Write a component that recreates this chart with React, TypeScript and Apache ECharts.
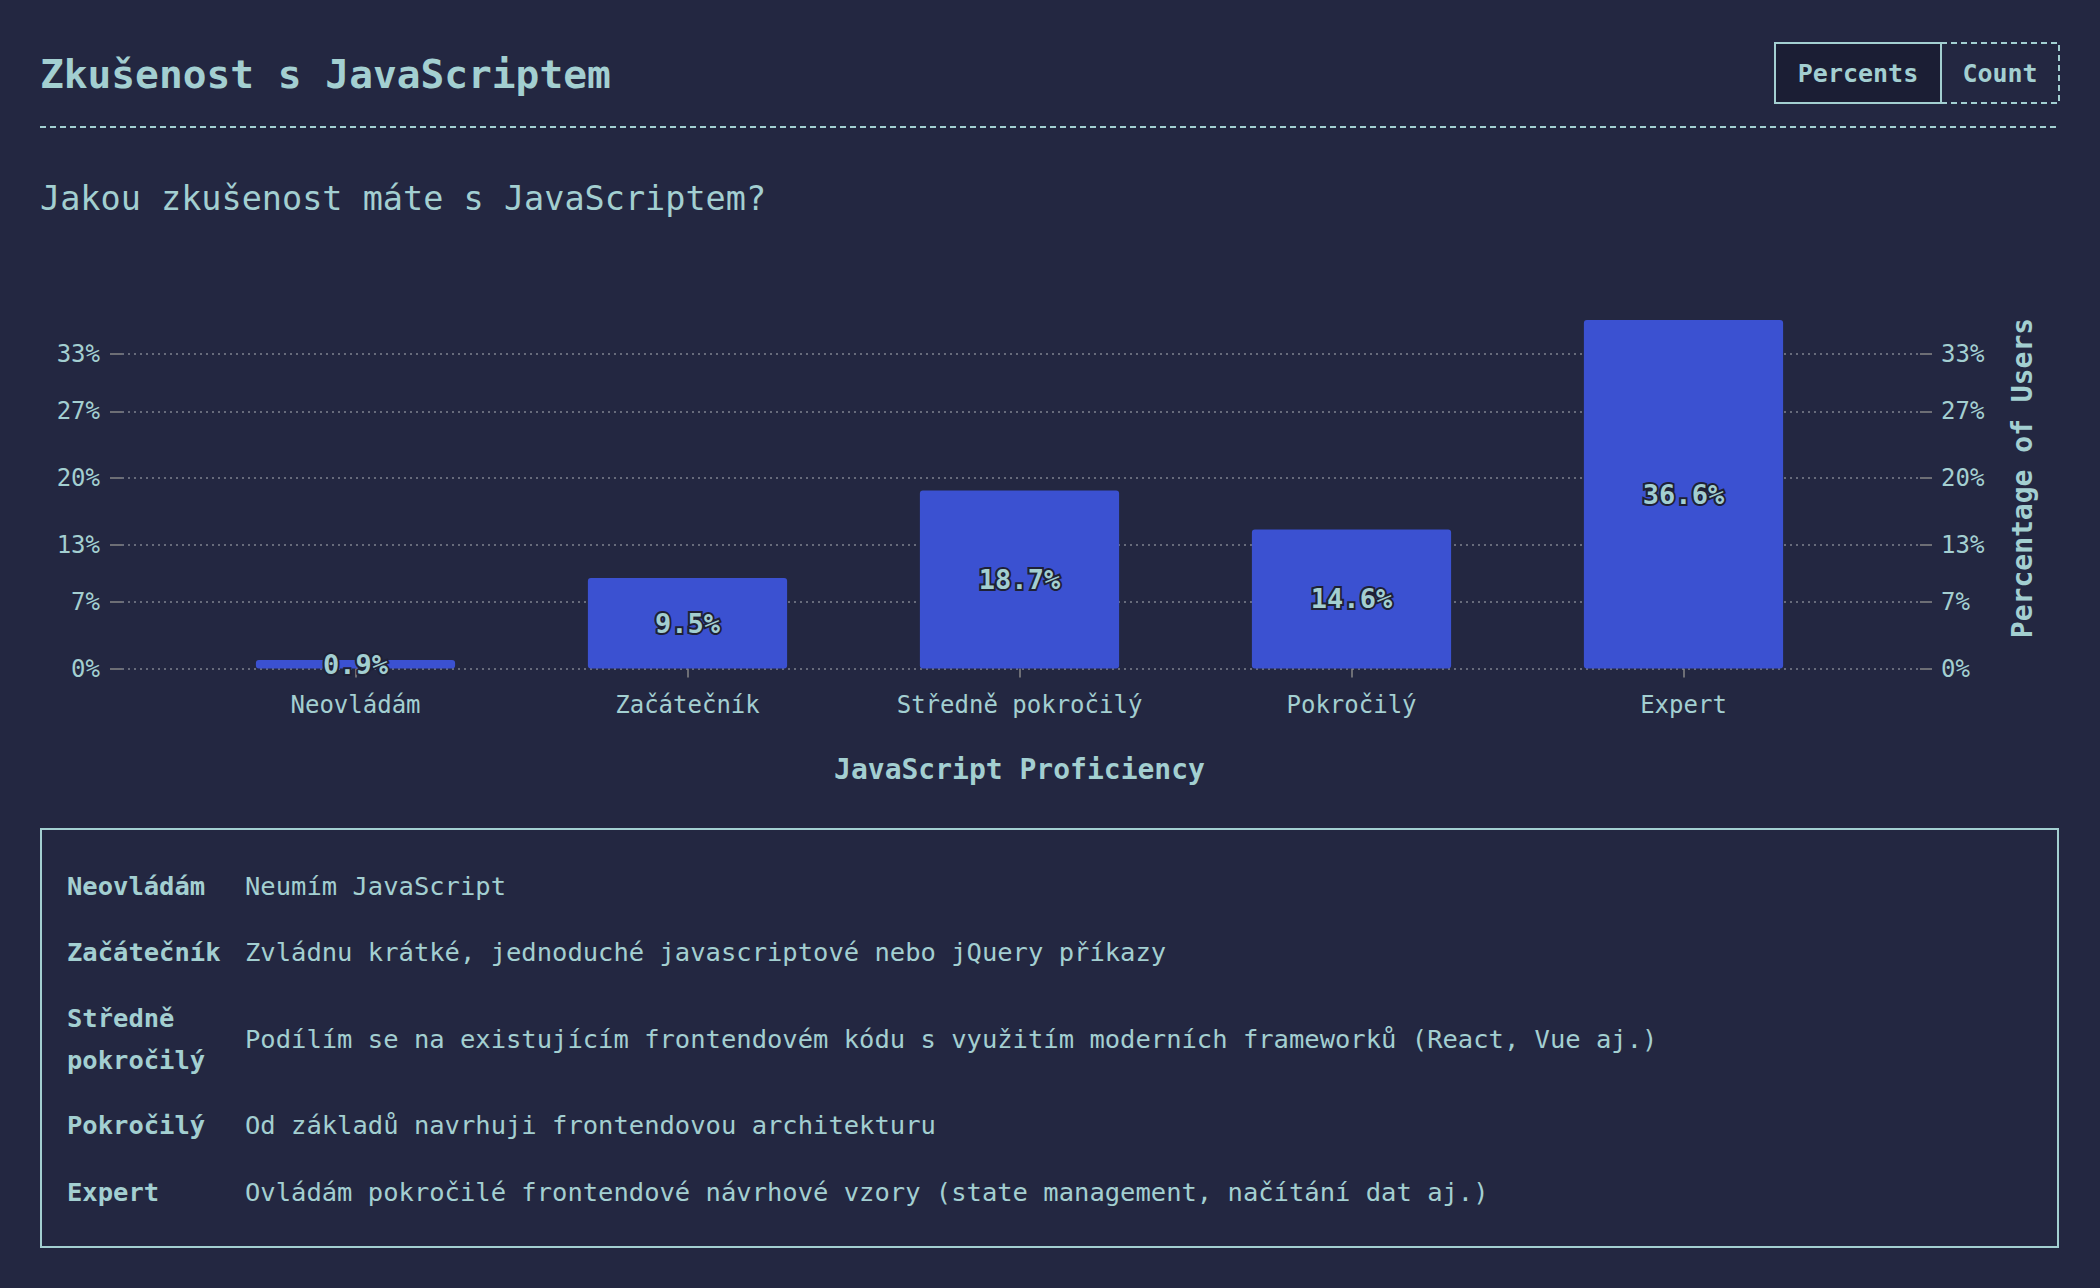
import React, { useEffect, useRef } from "react";
import * as echarts from "echarts";

// ---------- data ----------
const categories = ["Neovládám", "Začátečník", "Středně pokročilý", "Pokročilý", "Expert"];
const percentValues = [0.9, 9.5, 18.7, 14.6, 36.6];
const yTickValues = [0, 7, 13, 20, 27, 33];
const tableLabels = ["Neovládám", "Začátečník", "Středně\npokročilý", "Pokročilý", "Expert"];
const tableDescriptions = [
  "Neumím JavaScript",
  "Zvládnu krátké, jednoduché javascriptové nebo jQuery příkazy",
  "Podílím se na existujícím frontendovém kódu s využitím moderních frameworků (React, Vue aj.)",
  "Od základů navrhuji frontendovou architekturu",
  "Ovládám pokročilé frontendové návrhové vzory (state management, načítání dat aj.)",
];
const titleText = "Zkušenost s JavaScriptem";
const subtitleText = "Jakou zkušenost máte s JavaScriptem?";
const xAxisName = "JavaScript Proficiency";
const yAxisName = "Percentage of Users";
const buttonLabels = ["Percents", "Count"];

// ---------- styles ----------
const W = 2100;
const H = 1288;
const BG = "#232741";
const TEXT = "#a3cfd1";
const BAR = "#3b51d1";
const BTN_BG = "#1b1e34";
const GRID = "#7f838f";
const TICK = "#878787";
const FONT = '"DejaVu Sans Mono", "Liberation Mono", monospace';

const tableRowY = [886, 952, 1039, 1125, 1192];

export default function App() {
  const ref = useRef<HTMLDivElement>(null);

  useEffect(() => {
    if (!ref.current) return;
    const chart = echarts.init(ref.current, undefined, { renderer: "svg" });

    const axisTop = 287.5;
    const axisBottom = H - 668.5;

    const graphic: any[] = [
      {
        type: "text",
        x: 40,
        y: 74,
        style: { text: titleText, fill: TEXT, fontSize: 39.5, fontWeight: "bold", fontFamily: FONT, verticalAlign: "middle", align: "left" },
      },
      {
        type: "line",
        shape: { x1: 40, y1: 127, x2: 2058, y2: 127 },
        style: { stroke: TEXT, lineWidth: 2, lineDash: [6, 4] },
      },
      {
        type: "rect",
        shape: { x: 1941, y: 43, width: 118, height: 60 },
        style: { fill: BG, stroke: TEXT, lineWidth: 2, lineDash: [6, 4] },
      },
      {
        type: "rect",
        shape: { x: 1775, y: 43, width: 166, height: 60 },
        style: { fill: BTN_BG, stroke: TEXT, lineWidth: 2 },
      },
      {
        type: "text",
        x: 1858,
        y: 73,
        style: { text: buttonLabels[0], fill: TEXT, fontSize: 25, fontWeight: "bold", fontFamily: FONT, verticalAlign: "middle", align: "center" },
      },
      {
        type: "text",
        x: 2000,
        y: 73,
        style: { text: buttonLabels[1], fill: TEXT, fontSize: 25, fontWeight: "bold", fontFamily: FONT, verticalAlign: "middle", align: "center" },
      },
      {
        type: "text",
        x: 40,
        y: 198,
        style: { text: subtitleText, fill: TEXT, fontSize: 33.5, fontFamily: FONT, verticalAlign: "middle", align: "left" },
      },
      {
        type: "rect",
        shape: { x: 41, y: 829, width: 2017, height: 418 },
        style: { fill: "none", stroke: TEXT, lineWidth: 2 },
      },
    ];

    tableLabels.forEach((lab, i) => {
      graphic.push({
        type: "text",
        x: 67,
        y: tableRowY[i],
        style: { text: lab, fill: TEXT, fontSize: 25.5, fontWeight: "bold", fontFamily: FONT, verticalAlign: "middle", align: "left", lineHeight: 42 },
      });
      graphic.push({
        type: "text",
        x: 245,
        y: tableRowY[i],
        style: { text: tableDescriptions[i], fill: TEXT, fontSize: 25.5, fontFamily: FONT, verticalAlign: "middle", align: "left" },
      });
    });

    const yLabel = { color: TEXT, fontSize: 24, fontFamily: FONT, margin: 22, customValues: yTickValues, formatter: (v: number) => `${v}%` };

    const option: any = {
      backgroundColor: BG,
      animation: false,
      textStyle: { fontFamily: FONT },
      grid: [
        { left: 122, right: W - 1920, top: axisTop, bottom: axisBottom },
        { left: 189.5, right: W - 1849.5, top: axisTop, bottom: axisBottom },
      ],
      xAxis: [
        { gridIndex: 0, type: "value", min: 0, max: 1, show: false },
        {
          gridIndex: 1,
          type: "category",
          data: categories,
          axisLine: { show: false },
          axisTick: { show: true, alignWithLabel: true, length: 9, lineStyle: { color: TICK, width: 1.5 } },
          axisLabel: { color: TEXT, fontSize: 24, fontFamily: FONT, margin: 24 },
          splitLine: { show: false },
          name: xAxisName,
          nameLocation: "middle",
          nameGap: 87,
          nameTextStyle: { color: TEXT, fontSize: 28, fontWeight: "bold", fontFamily: FONT },
        },
      ],
      yAxis: [
        {
          gridIndex: 0,
          type: "value",
          position: "left",
          min: 0,
          max: 40,
          axisLine: { show: false },
          axisTick: { show: true, length: 12, customValues: yTickValues, lineStyle: { color: TICK, width: 1.5 } },
          axisLabel: yLabel,
          splitLine: { show: true, lineStyle: { color: GRID, width: 1.5, type: [2, 4] } },
        },
        {
          gridIndex: 0,
          type: "value",
          position: "right",
          min: 0,
          max: 40,
          axisLine: { show: false },
          axisTick: { show: true, length: 12, customValues: yTickValues, lineStyle: { color: TICK, width: 1.5 } },
          axisLabel: { ...yLabel, margin: 21 },
          splitLine: { show: false },
          name: yAxisName,
          nameLocation: "middle",
          nameRotate: 90,
          nameGap: 88,
          nameTextStyle: { color: TEXT, fontSize: 28, fontWeight: "bold", fontFamily: FONT },
        },
        { gridIndex: 1, type: "value", min: 0, max: 40, show: false },
      ],
      series: [
        {
          type: "bar",
          xAxisIndex: 1,
          yAxisIndex: 2,
          data: percentValues,
          barWidth: "60%",
          itemStyle: { color: BAR, borderRadius: 3 },
          label: {
            show: true,
            position: "inside",
            formatter: (p: any) => `${Number(p.value).toFixed(1)}%`,
            color: TEXT,
            fontSize: 27,
            fontWeight: "bold",
            fontFamily: FONT,
            textBorderColor: "#1e2136",
            textBorderWidth: 4,
          },
        },
      ],
      graphic,
    };

    chart.setOption(option);
    return () => chart.dispose();
  }, []);

  return (
    <div
      ref={ref}
      style={{ position: "fixed", left: 0, top: 0, width: W, height: H, background: BG }}
    />
  );
}
